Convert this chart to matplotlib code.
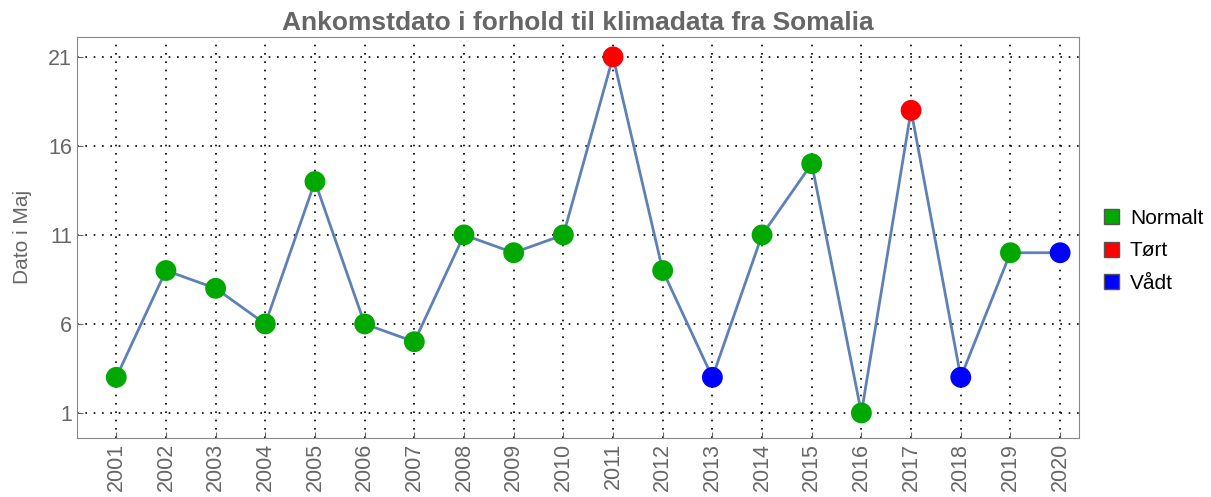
import matplotlib.pyplot as plt
from matplotlib.patches import Patch

years = list(range(2001, 2021))
dates = [3, 9, 8, 6, 14, 6, 5, 11, 10, 11, 21, 9, 3, 11, 15, 1, 18, 3, 10, 10]
climate = ['Normalt', 'Normalt', 'Normalt', 'Normalt', 'Normalt', 'Normalt', 'Normalt',
           'Normalt', 'Normalt', 'Normalt', 'Tørt', 'Normalt', 'Vådt', 'Normalt',
           'Normalt', 'Normalt', 'Tørt', 'Vådt', 'Normalt', 'Vådt']
categories = ['Normalt', 'Tørt', 'Vådt']
colors = {'Normalt': '#00a800', 'Tørt': '#ff0000', 'Vådt': '#0000ff'}

plt.rcParams['font.family'] = ['Liberation Sans', 'DejaVu Sans']
grey = '#666666'

fig = plt.figure(figsize=(12.11, 4.97), dpi=100)
ax = fig.add_axes([0.0636, 0.119, 0.8274, 0.8066])

ax.plot(years, dates, color='#5e81b5', lw=2, zorder=2)
ax.scatter(years, dates, c=[colors[c] for c in climate], s=225, zorder=3, linewidths=0)

ax.set_xlim(2000.21, 2020.38)
ax.set_ylim(-0.4, 22.12)
ax.set_xticks(years)
ax.set_xticklabels([str(y) for y in years], rotation=90)
ax.set_yticks([1, 6, 11, 16, 21])
ax.grid(True, color='black', linestyle=(0, (1, 4)), lw=1.2)
ax.set_axisbelow(True)
ax.tick_params(colors=grey, labelcolor=grey, labelsize=15.5, direction='in', length=4)
for s in ax.spines.values():
    s.set_color('#888888')

ax.set_ylabel('Dato i Maj', color=grey, fontsize=15, labelpad=12)
ax.set_title('Ankomstdato i forhold til klimadata fra Somalia', color=grey,
             fontsize=19, fontweight='bold', pad=5)

handles = [Patch(facecolor=colors[c], edgecolor='#555555', label=c) for c in categories]
fig.legend(handles=handles, loc='center left', bbox_to_anchor=(0.896, 0.495),
           frameon=False, fontsize=15, handlelength=0.75, handleheight=0.75,
           handletextpad=0.5, labelspacing=0.65)

plt.savefig('out.png')
